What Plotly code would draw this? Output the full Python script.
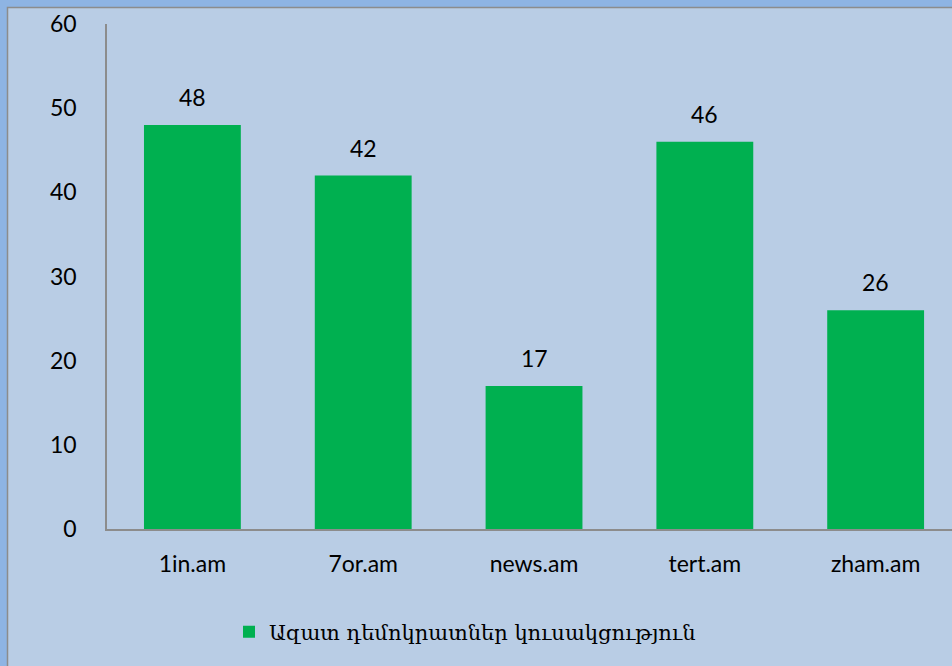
import plotly.graph_objects as go

categories = ["1in.am", "7or.am", "news.am", "tert.am", "zham.am"]
values = [48, 42, 17, 46, 26]
series_name = "Ազատ դեմոկրատներ կուսակցություն"
y_ticks = [0, 10, 20, 30, 40, 50, 60]

W, H = 952, 666
ML, MR, MT, MB = 107, 0, 24, 137
pw, ph = W - ML - MR, H - MT - MB

def px_x(p):
    return (p - ML) / pw

def px_y(p):
    return (H - MB - p) / ph

FONT = "Lato, Open Sans, sans-serif"

fig = go.Figure()
fig.add_trace(go.Bar(
    x=list(range(len(categories))), y=values, name=series_name,
    marker=dict(color="#00B050", line=dict(width=0)),
    width=0.567, showlegend=True,
))
for i, v in enumerate(values):
    fig.add_annotation(x=i, y=v, text=str(v), showarrow=False, yanchor="middle",
                       yshift=28, font=dict(family=FONT, size=23, color="#000"))

fig.add_shape(type="rect", xref="paper", yref="paper", layer="below",
              x0=px_x(7.5), x1=px_x(1000), y0=px_y(7.5), y1=px_y(720),
              fillcolor="#B9CDE5", line=dict(color="#8C8C8C", width=1.5))

fig.update_layout(
    width=W, height=H,
    margin=dict(l=ML, r=MR, t=MT, b=MB),
    paper_bgcolor="#8EB4E3", plot_bgcolor="#B9CDE5",
    font=dict(family=FONT, size=23, color="#000"),
    xaxis=dict(tickmode="array", tickvals=list(range(len(categories))), ticktext=categories,
               range=[-0.5, 4.447], showline=True, linecolor="#8C8C8C", linewidth=1.5,
               ticks="", showgrid=False, zeroline=False, ticklabelstandoff=14,
               tickfont=dict(size=23)),
    yaxis=dict(range=[0, 60], tickvals=y_ticks, showline=True, linecolor="#8C8C8C", linewidth=1.5,
               ticks="", showgrid=False, zeroline=False, ticklabelstandoff=24,
               tickfont=dict(size=23)),
    legend=dict(orientation="h", x=px_x(465), xanchor="center", y=px_y(632), yanchor="middle",
                bgcolor="rgba(0,0,0,0)",
                font=dict(family="DejaVu Serif, serif", size=21, color="#000"),
                itemwidth=30),
)
fig.write_html("out.html", config={"displayModeBar": False},
               post_script="document.body.style.margin='0px';document.body.style.overflow='hidden';")
